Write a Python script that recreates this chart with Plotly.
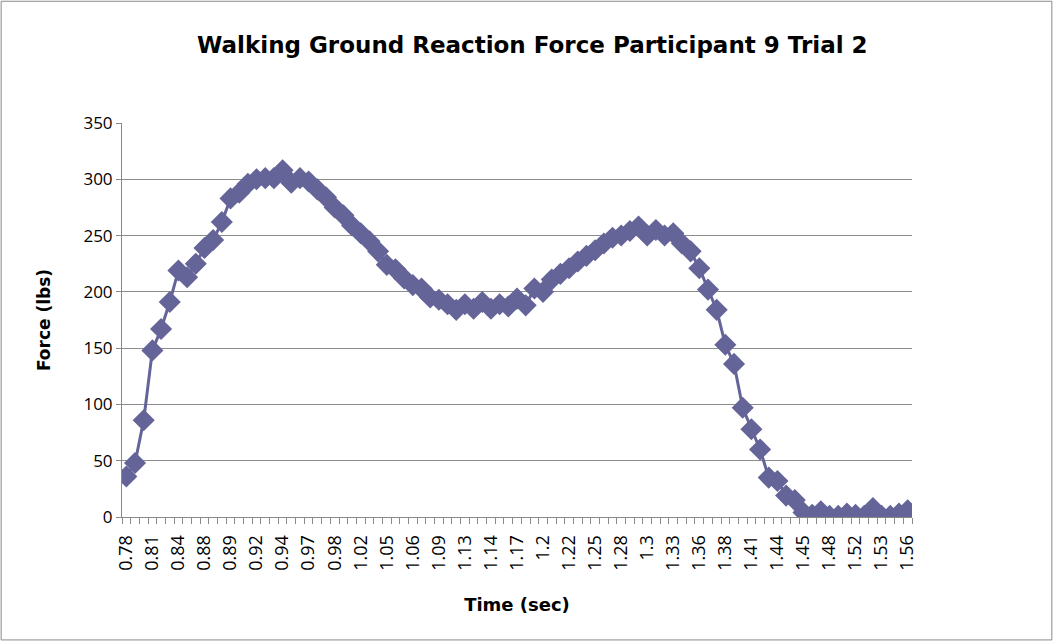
import plotly.graph_objects as go

# Vertical ground reaction force samples (lbs), one per recorded frame
force_lbs = [
    36, 48, 86, 148, 167, 191, 219, 213, 225, 239,
    246, 262, 283, 288, 296, 300, 301, 301, 308, 297,
    301, 298, 291, 284, 275, 268, 259, 252, 245, 236,
    224, 220, 212, 206, 203, 195, 193, 189, 184, 189,
    185, 191, 185, 189, 187, 194, 188, 203, 200, 211,
    216, 221, 227, 232, 237, 243, 248, 250, 254, 258,
    250, 255, 250, 252, 243, 236, 221, 202, 184, 153,
    136, 97, 78, 60, 35, 32, 19, 15, 4, 2,
    5, 1, 1, 3, 2, 1, 8, 1, 1, 3, 6,
]

# Time labels (sec) shown on every third sample
time_labels = [
    "0.78", "0.81", "0.84", "0.88", "0.89", "0.92", "0.94", "0.97", "0.98",
    "1.02", "1.05", "1.06", "1.09", "1.13", "1.14", "1.17", "1.2", "1.22",
    "1.25", "1.28", "1.3", "1.33", "1.36", "1.38", "1.41", "1.44", "1.45",
    "1.48", "1.52", "1.53", "1.56",
]
label_step = 3

sample_index = list(range(len(force_lbs)))
label_positions = [i * label_step for i in range(len(time_labels))]

color = "#646499"
tick_family = "Open Sans, Liberation Sans, sans-serif"
title_family = "DejaVu Sans, sans-serif"

fig = go.Figure(
    go.Scatter(
        x=sample_index,
        y=force_lbs,
        mode="lines+markers",
        line=dict(color=color, width=3),
        marker=dict(symbol="diamond", size=17, color=color),
        showlegend=False,
    )
)

fig.update_layout(
    width=1058,
    height=641,
    margin=dict(l=122, r=146, t=123, b=124),
    paper_bgcolor="white",
    plot_bgcolor="white",
    font=dict(family=tick_family, color="black"),
    annotations=[
        dict(
            text="<b>Walking Ground Reaction Force Participant 9 Trial 2</b>",
            xref="paper", yref="paper", x=0.52, y=1.198,
            xanchor="center", yanchor="middle", showarrow=False,
            font=dict(size=23, family=title_family),
        ),
    ],
    shapes=[
        dict(
            type="rect", xref="paper", yref="paper",
            x0=-0.153, x1=1.177, y0=-0.312, y1=1.309,
            line=dict(color="#898989", width=1), fillcolor="rgba(0,0,0,0)",
            layer="below",
        )
    ],
)

fig.update_xaxes(
    range=[-0.5, len(force_lbs) - 0.5],
    tickmode="array",
    tickvals=label_positions,
    ticktext=time_labels,
    tickangle=-90,
    tickfont=dict(size=18),
    ticks="",
    ticklabelstandoff=10,
    showgrid=False,
    zeroline=False,
    showline=True,
    linecolor="#898989",
    linewidth=1,
    minor=dict(tick0=-0.5, dtick=1, ticks="outside", ticklen=6,
               tickcolor="#898989", showgrid=False),
    title=dict(text="<b>Time (sec)</b>", font=dict(size=18, family=title_family),
               standoff=28),
)

fig.update_yaxes(
    range=[0, 350],
    dtick=50,
    tickfont=dict(size=17),
    ticks="outside",
    ticklen=5,
    tickcolor="#898989",
    showgrid=True,
    gridcolor="#8c8c8c",
    gridwidth=1,
    zeroline=False,
    showline=True,
    linecolor="#898989",
    linewidth=1,
    title=dict(text="<b>Force (lbs)</b>", font=dict(size=17, family=title_family),
               standoff=28),
)

fig.write_html("out.html")
